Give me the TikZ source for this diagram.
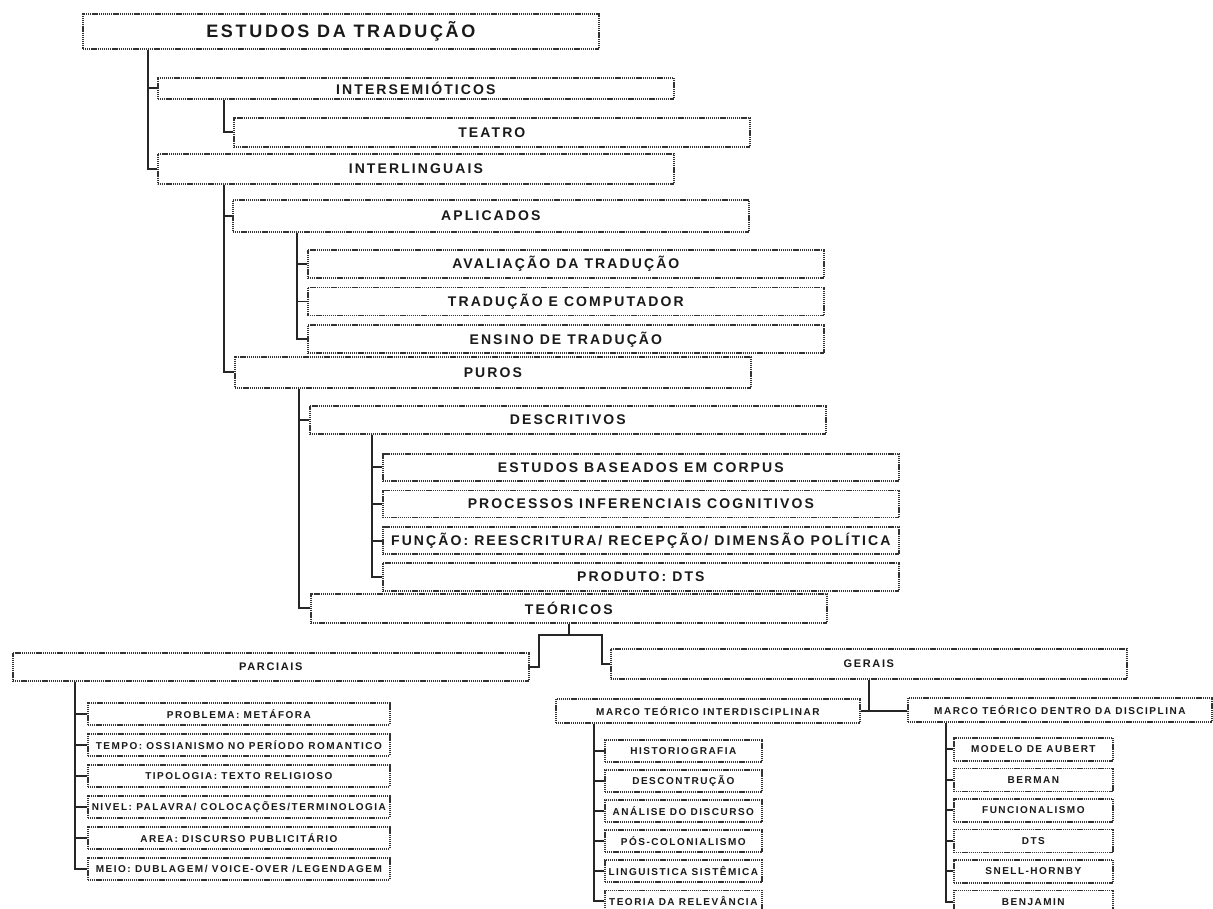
\documentclass[tikz,border=0pt]{standalone}
\usepackage{fontspec}
\usepackage{tikz}
\usetikzlibrary{positioning}
\newfontfamily\diagfont[LetterSpace=15]{Liberation Sans}
\newcommand{\TitleFont}{\diagfont\bfseries\fontsize{18}{20}\selectfont}
\newcommand{\MidFont}{\diagfont\bfseries\fontsize{14}{16}\selectfont}
\newcommand{\SmallFont}{\diagfont\bfseries\fontsize{10}{12}\selectfont}
\tikzset{
    box/.style={draw=black!80, line width=1.7pt, dash pattern=on 1.3pt off 0.8pt,
      fill=white, text=black!90, inner sep=0pt, anchor=north west},
    wide/.style={box, minimum width=516pt, minimum height=29pt, font=\MidFont},
    marco/.style={box, minimum width=304pt, minimum height=24pt, font=\SmallFont},
    leaf/.style={box, font=\SmallFont},
    link/.style={draw=black!85, line width=1.9pt},
}

\begin{document}
\begin{tikzpicture}[x=1pt, y=-1pt]
    \tikzset{
      leafp/.style={leaf, minimum width=302pt, minimum height=22pt},
      leafi/.style={leaf, minimum width=157pt, minimum height=22pt},
      leafd/.style={leaf, minimum width=159pt, minimum height=23pt}
    }
    \fill[white] (0,0) rectangle (1213,909);
    \useasboundingbox (0,0) rectangle (1213,909);

    \node[wide, minimum height=35pt, font=\TitleFont] (estudos) at (82,13) {ESTUDOS DA TRADUÇÃO};
    \node[wide, minimum height=21pt] (intersem) at (157,77) {INTERSEMIÓTICOS};
    \node[wide] (teatro) at (233,117) {TEATRO};
    \node[wide, minimum height=30pt] (interling) at (157,153) {INTERLINGUAIS};

    \node[wide, minimum height=32pt] (aplicados) at (232,199) {APLICADOS};
    \node[wide, minimum height=28pt] (avaliacao) at (307,249) {AVALIAÇÃO DA TRADUÇÃO};
    \node[wide, minimum height=28pt, below=8pt of avaliacao] (computador) {TRADUÇÃO E COMPUTADOR};
    \node[wide, minimum height=28pt, below=8pt of computador] (ensino) {ENSINO DE TRADUÇÃO};

    \node[wide, minimum height=31pt] (puros) at (234,356) {PUROS};
    \node[wide, minimum height=28pt] (descritivos) at (309,405) {DESCRITIVOS};
    \node[wide, minimum height=27pt] (corpus) at (382,453) {ESTUDOS BASEADOS EM CORPUS};
    \node[wide, minimum height=27pt, below=8pt of corpus] (processos) {PROCESSOS INFERENCIAIS COGNITIVOS};
    \node[wide, minimum height=27pt, below=8pt of processos] (funcao) {FUNÇÃO: REESCRITURA/ RECEPÇÃO/ DIMENSÃO POLÍTICA};
    \node[wide, minimum height=28pt, below=7pt of funcao] (produto) {PRODUTO: DTS};
    \node[wide] (teoricos) at (310,593) {TEÓRICOS};

    \node[wide, minimum height=28pt, font=\diagfont\bfseries\fontsize{11}{13}\selectfont] (parciais) at (12,652) {PARCIAIS};
    \node[wide, minimum height=30pt, font=\diagfont\bfseries\fontsize{11}{13}\selectfont] (gerais) at (610,648) {GERAIS};
    \node[marco] (marcoint) at (555,698) {MARCO TEÓRICO INTERDISCIPLINAR};
    \node[marco] (marcodentro) at (907,697) {MARCO TEÓRICO DENTRO DA DISCIPLINA};

    % parciais
    \node[leafp] (problema) at (87,702) {PROBLEMA: METÁFORA};
    \node[leafp, below=7.3pt of problema] (tempo) {TEMPO: OSSIANISMO NO PERÍODO ROMANTICO};
    \node[leafp, below=7.3pt of tempo] (tipologia) {TIPOLOGIA: TEXTO RELIGIOSO};
    \node[leafp, below=7.3pt of tipologia] (nivel) {NIVEL: PALAVRA/ COLOCAÇÕES/TERMINOLOGIA};
    \node[leafp, below=7.3pt of nivel] (area) {AREA: DISCURSO PUBLICITÁRIO};
    \node[leafp, below=7.3pt of area] (meio) {MEIO: DUBLAGEM/ VOICE-OVER /LEGENDAGEM};

    % marco interdisciplinar
    \node[leafi] (historio) at (604,739) {HISTORIOGRAFIA};
    \node[leafi, below=6.4pt of historio] (descon) {DESCONTRUÇÃO};
    \node[leafi, below=6.4pt of descon] (analise) {ANÁLISE DO DISCURSO};
    \node[leafi, below=6.4pt of analise] (poscol) {PÓS-COLONIALISMO};
    \node[leafi, below=6.4pt of poscol] (linguistica) {LINGUISTICA SISTÊMICA};
    \node[leafi, below=6.4pt of linguistica] (relevancia) {TEORIA DA RELEVÂNCIA};

    % marco dentro da disciplina
    \node[leafd] (aubert) at (953,737) {MODELO DE AUBERT};
    \node[leafd, below=5.8pt of aubert] (berman) {BERMAN};
    \node[leafd, below=5.8pt of berman] (funcional) {FUNCIONALISMO};
    \node[leafd, below=5.8pt of funcional] (dts) {DTS};
    \node[leafd, below=5.8pt of dts] (snell) {SNELL-HORNBY};
    \node[leafd, below=5.8pt of snell] (benjamin) {BENJAMIN};

    \draw[link] ([xshift=66pt]estudos.south west) |- (intersem.west);
    \draw[link] ([xshift=66pt]estudos.south west) |- (interling.west);
    \draw[link] ([xshift=67pt]intersem.south west) |- (teatro.west);
    \draw[link] ([xshift=67pt]interling.south west) |- (aplicados.west);
    \draw[link] ([xshift=67pt]interling.south west) |- (puros.west);

    \draw[link] ([xshift=65pt]aplicados.south west) |- (avaliacao.west);
    \draw[link] ([xshift=65pt]aplicados.south west) |- (computador.west);
    \draw[link] ([xshift=65pt]aplicados.south west) |- (ensino.west);

    \draw[link] ([xshift=65pt]puros.south west) |- (descritivos.west);
    \draw[link] ([xshift=65pt]puros.south west) |- (teoricos.west);

    \draw[link] ([xshift=63pt]descritivos.south west) |- (corpus.west);
    \draw[link] ([xshift=63pt]descritivos.south west) |- (processos.west);
    \draw[link] ([xshift=63pt]descritivos.south west) |- (funcao.west);
    \draw[link] ([xshift=63pt]descritivos.south west) |- (produto.west);

    \coordinate (fork) at ([yshift=-11pt]teoricos.south);
    \draw[link] (teoricos.south) -- (fork);
    \draw[link] (parciais.east) -- ++(9,0) |- (fork);
    \draw[link] (gerais.west) -- ++(-8,0) |- (fork);

    \draw[link] (gerais.south) -- (gerais.south |- marcoint.east);
    \draw[link] (marcoint.east) -- (marcoint.east -| marcodentro.west);

    \draw[link] ([xshift=63pt]parciais.south west) |- (problema.west);
    \draw[link] ([xshift=63pt]parciais.south west) |- (tempo.west);
    \draw[link] ([xshift=63pt]parciais.south west) |- (tipologia.west);
    \draw[link] ([xshift=63pt]parciais.south west) |- (nivel.west);
    \draw[link] ([xshift=63pt]parciais.south west) |- (area.west);
    \draw[link] ([xshift=63pt]parciais.south west) |- (meio.west);

    \draw[link] ([xshift=39pt]marcoint.south west) |- (historio.west);
    \draw[link] ([xshift=39pt]marcoint.south west) |- (descon.west);
    \draw[link] ([xshift=39pt]marcoint.south west) |- (analise.west);
    \draw[link] ([xshift=39pt]marcoint.south west) |- (poscol.west);
    \draw[link] ([xshift=39pt]marcoint.south west) |- (linguistica.west);
    \draw[link] ([xshift=39pt]marcoint.south west) |- (relevancia.west);

    \draw[link] ([xshift=39pt]marcodentro.south west) |- (aubert.west);
    \draw[link] ([xshift=39pt]marcodentro.south west) |- (berman.west);
    \draw[link] ([xshift=39pt]marcodentro.south west) |- (funcional.west);
    \draw[link] ([xshift=39pt]marcodentro.south west) |- (dts.west);
    \draw[link] ([xshift=39pt]marcodentro.south west) |- (snell.west);
    \draw[link] ([xshift=39pt]marcodentro.south west) |- (benjamin.west);
\end{tikzpicture}
\end{document}
